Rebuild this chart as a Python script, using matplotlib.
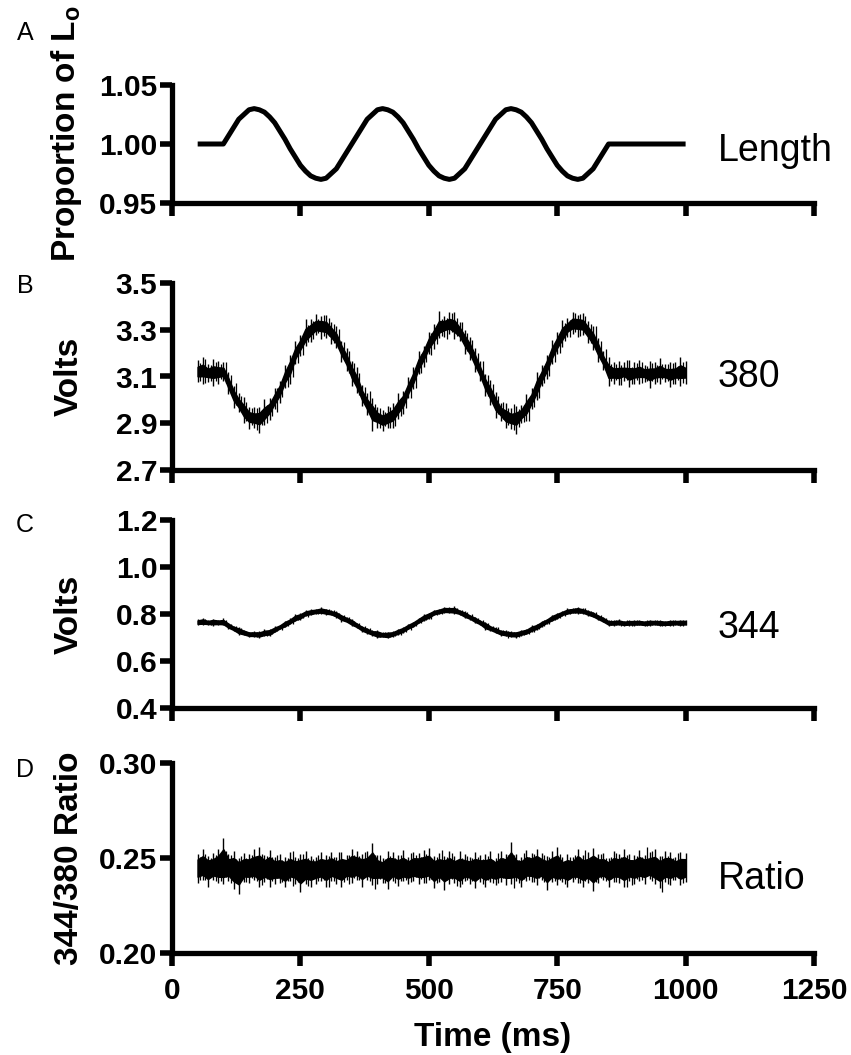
import numpy as np
import matplotlib
matplotlib.use("Agg")
import matplotlib.pyplot as plt

plt.rcParams['font.family'] = ['Liberation Sans', 'DejaVu Sans']
plt.rcParams['mathtext.fontset'] = 'custom'
plt.rcParams['mathtext.rm'] = 'Liberation Sans'
plt.rcParams['mathtext.bf'] = 'Liberation Sans:bold'

# ---------------- data ----------------
x_ticks = [0, 250, 500, 750, 1000, 1250]
x_ticklabels = ['0', '250', '500', '750', '1000', '1250']

# Panel A: muscle length (proportion of Lo)
length_t = [50] + list(range(100, 851, 10)) + [1000]
length_v = [1.000,
            1.000, 1.007, 1.014, 1.021, 1.025, 1.029, 1.030, 1.029, 1.027, 1.023, 1.018, 1.011, 1.004,
            0.996, 0.989, 0.982, 0.977, 0.973, 0.971, 0.970, 0.971, 0.975, 0.979, 0.986, 0.993,
            1.000, 1.007, 1.014, 1.021, 1.025, 1.029, 1.030, 1.029, 1.027, 1.023, 1.018, 1.011, 1.004,
            0.996, 0.989, 0.982, 0.977, 0.973, 0.971, 0.970, 0.971, 0.975, 0.979, 0.986, 0.993,
            1.000, 1.007, 1.014, 1.021, 1.025, 1.029, 1.030, 1.029, 1.027, 1.023, 1.018, 1.011, 1.004,
            0.996, 0.989, 0.982, 0.977, 0.973, 0.971, 0.970, 0.971, 0.975, 0.979, 0.986, 0.993,
            1.000,
            1.000]

# common sampling times for the noisy traces (ms)
trace_t = list(range(50, 1001, 10))

# Panel B: 380 nm signal (V) - centre and noise excursions
v380_mid = [3.120, 3.125, 3.115, 3.120, 3.120,
            3.120, 3.070, 3.024, 2.983, 2.951, 2.930, 2.920, 2.924, 2.939, 2.966, 3.002, 3.046, 3.095,
            3.145, 3.194, 3.238, 3.274, 3.301, 3.316, 3.320, 3.310, 3.289, 3.257, 3.216, 3.170,
            3.120, 3.070, 3.022, 2.980, 2.948, 2.925, 2.915, 2.920, 2.936, 2.964, 3.000, 3.046, 3.095,
            3.147, 3.196, 3.240, 3.278, 3.305, 3.320, 3.325, 3.314, 3.290, 3.257, 3.216, 3.170,
            3.120, 3.070, 3.024, 2.983, 2.951, 2.930, 2.920, 2.924, 2.939, 2.966, 3.004, 3.050, 3.100,
            3.150, 3.200, 3.245, 3.282, 3.310, 3.326, 3.330, 3.318, 3.292, 3.258, 3.215, 3.168,
            3.120, 3.115, 3.115, 3.120, 3.110, 3.115, 3.120, 3.115, 3.110, 3.115, 3.120, 3.115,
            3.110, 3.115, 3.120, 3.115]
v380_up = [0.050, 0.060, 0.040, 0.055, 0.045, 0.040, 0.050, 0.035, 0.045, 0.060,
           0.040, 0.050, 0.045, 0.065, 0.040, 0.050, 0.035, 0.055, 0.045, 0.060,
           0.040, 0.070, 0.045, 0.050, 0.040, 0.055, 0.045, 0.060, 0.035, 0.050,
           0.045, 0.070, 0.040, 0.050, 0.060, 0.045, 0.040, 0.055, 0.050, 0.065,
           0.040, 0.050, 0.045, 0.060, 0.035, 0.050, 0.045, 0.075, 0.040, 0.050,
           0.060, 0.045, 0.040, 0.055, 0.050, 0.045, 0.040, 0.060, 0.050, 0.035,
           0.055, 0.045, 0.050, 0.040, 0.060, 0.045, 0.070, 0.050, 0.040, 0.055,
           0.045, 0.060, 0.040, 0.050, 0.035, 0.055, 0.045, 0.060, 0.050, 0.040,
           0.065, 0.045, 0.050, 0.040, 0.060, 0.045, 0.050, 0.035, 0.055, 0.045,
           0.060, 0.040, 0.050, 0.045, 0.065, 0.050]
v380_dn = [0.045, 0.055, 0.040, 0.060, 0.050, 0.040, 0.045, 0.060, 0.035, 0.050,
           0.055, 0.040, 0.065, 0.045, 0.050, 0.040, 0.060, 0.045, 0.075, 0.040,
           0.050, 0.045, 0.055, 0.040, 0.060, 0.045, 0.050, 0.035, 0.055, 0.045,
           0.060, 0.040, 0.050, 0.045, 0.080, 0.045, 0.050, 0.040, 0.055, 0.045,
           0.060, 0.040, 0.050, 0.035, 0.055, 0.045, 0.060, 0.040, 0.050, 0.045,
           0.055, 0.040, 0.060, 0.045, 0.050, 0.040, 0.055, 0.045, 0.060, 0.040,
           0.050, 0.045, 0.070, 0.040, 0.055, 0.045, 0.050, 0.040, 0.060, 0.045,
           0.050, 0.055, 0.040, 0.045, 0.060, 0.040, 0.050, 0.045, 0.055, 0.040,
           0.060, 0.045, 0.050, 0.040, 0.055, 0.045, 0.050, 0.040, 0.060, 0.045,
           0.050, 0.040, 0.055, 0.045, 0.060, 0.045]

# Panel C: 344 nm signal (V)
v344_mid = [0.765, 0.767, 0.764, 0.766, 0.765,
            0.763, 0.751, 0.739, 0.729, 0.721, 0.715, 0.713, 0.714, 0.718, 0.724, 0.734, 0.745, 0.757,
            0.769, 0.781, 0.792, 0.802, 0.808, 0.812, 0.813, 0.811, 0.805, 0.797, 0.787, 0.775,
            0.763, 0.751, 0.739, 0.728, 0.719, 0.713, 0.711, 0.712, 0.716, 0.723, 0.733, 0.745, 0.758,
            0.771, 0.783, 0.795, 0.805, 0.812, 0.816, 0.817, 0.814, 0.807, 0.798, 0.787, 0.775,
            0.763, 0.751, 0.740, 0.730, 0.722, 0.716, 0.714, 0.715, 0.719, 0.725, 0.735, 0.746, 0.758,
            0.770, 0.782, 0.793, 0.803, 0.810, 0.814, 0.815, 0.812, 0.806, 0.797, 0.786, 0.774,
            0.763, 0.762, 0.763, 0.761, 0.762, 0.763, 0.762, 0.761, 0.762, 0.763, 0.762, 0.761,
            0.762, 0.763, 0.762, 0.763]
v344_up = [0.012, 0.016, 0.010, 0.014, 0.011, 0.018, 0.012, 0.010, 0.015, 0.012,
           0.010, 0.014, 0.012, 0.017, 0.011, 0.013, 0.010, 0.015, 0.012, 0.019,
           0.011, 0.014, 0.012, 0.010, 0.016, 0.012, 0.011, 0.015, 0.010, 0.013,
           0.017, 0.012, 0.010, 0.014, 0.012, 0.020, 0.011, 0.013, 0.010, 0.015,
           0.012, 0.014, 0.010, 0.012, 0.016, 0.011, 0.013, 0.010, 0.015, 0.012,
           0.018, 0.011, 0.013, 0.010, 0.014, 0.012, 0.016, 0.011, 0.013, 0.010,
           0.015, 0.012, 0.010, 0.014, 0.012, 0.017, 0.011, 0.013, 0.010, 0.015,
           0.012, 0.010, 0.014, 0.011, 0.016, 0.012, 0.010, 0.013, 0.011, 0.014,
           0.010, 0.012, 0.015, 0.010, 0.012, 0.011, 0.013, 0.010, 0.014, 0.011,
           0.012, 0.010, 0.013, 0.011, 0.014, 0.012]
v344_dn = [0.011, 0.013, 0.010, 0.015, 0.012, 0.010, 0.014, 0.011, 0.017, 0.012,
           0.013, 0.010, 0.015, 0.011, 0.018, 0.012, 0.010, 0.014, 0.012, 0.011,
           0.016, 0.010, 0.013, 0.012, 0.011, 0.015, 0.010, 0.012, 0.019, 0.011,
           0.013, 0.010, 0.015, 0.012, 0.011, 0.014, 0.010, 0.016, 0.012, 0.011,
           0.013, 0.010, 0.015, 0.011, 0.012, 0.017, 0.010, 0.013, 0.011, 0.014,
           0.012, 0.010, 0.015, 0.011, 0.013, 0.010, 0.018, 0.012, 0.011, 0.014,
           0.010, 0.013, 0.016, 0.011, 0.012, 0.010, 0.014, 0.012, 0.011, 0.013,
           0.015, 0.010, 0.012, 0.011, 0.013, 0.010, 0.014, 0.011, 0.012, 0.010,
           0.013, 0.011, 0.010, 0.012, 0.011, 0.013, 0.010, 0.012, 0.011, 0.010,
           0.013, 0.011, 0.012, 0.010, 0.012, 0.011]

# Panel D: 344/380 ratio
ratio_mid = [0.2450, 0.2455, 0.2450, 0.2445, 0.2450, 0.2455, 0.2450, 0.2445, 0.2440, 0.2445,
             0.2450, 0.2445, 0.2440, 0.2445, 0.2450, 0.2445, 0.2440, 0.2435, 0.2440, 0.2445,
             0.2440, 0.2435, 0.2440, 0.2445, 0.2440, 0.2445, 0.2450, 0.2445, 0.2440, 0.2445,
             0.2450, 0.2455, 0.2450, 0.2445, 0.2450, 0.2445, 0.2440, 0.2445, 0.2450, 0.2445,
             0.2440, 0.2445, 0.2450, 0.2455, 0.2450, 0.2445, 0.2440, 0.2445, 0.2450, 0.2445,
             0.2440, 0.2435, 0.2440, 0.2445, 0.2440, 0.2445, 0.2440, 0.2435, 0.2440, 0.2445,
             0.2450, 0.2445, 0.2440, 0.2445, 0.2450, 0.2455, 0.2450, 0.2445, 0.2440, 0.2445,
             0.2440, 0.2435, 0.2440, 0.2445, 0.2450, 0.2445, 0.2440, 0.2445, 0.2450, 0.2445,
             0.2440, 0.2445, 0.2450, 0.2445, 0.2440, 0.2445, 0.2450, 0.2455, 0.2450, 0.2445,
             0.2440, 0.2445, 0.2450, 0.2445, 0.2440, 0.2445]
ratio_up = [0.007, 0.009, 0.006, 0.008, 0.010, 0.015, 0.007, 0.009, 0.006, 0.008,
            0.007, 0.010, 0.012, 0.007, 0.009, 0.006, 0.008, 0.007, 0.009, 0.006,
            0.008, 0.010, 0.007, 0.006, 0.009, 0.007, 0.008, 0.006, 0.009, 0.007,
            0.010, 0.008, 0.007, 0.009, 0.013, 0.007, 0.006, 0.009, 0.008, 0.007,
            0.010, 0.006, 0.008, 0.007, 0.009, 0.011, 0.007, 0.008, 0.006, 0.009,
            0.007, 0.010, 0.008, 0.006, 0.009, 0.007, 0.008, 0.010, 0.006, 0.009,
            0.007, 0.014, 0.008, 0.006, 0.009, 0.007, 0.010, 0.008, 0.007, 0.009,
            0.012, 0.007, 0.008, 0.006, 0.010, 0.007, 0.009, 0.011, 0.007, 0.008,
            0.006, 0.009, 0.007, 0.010, 0.008, 0.007, 0.009, 0.006, 0.008, 0.010,
            0.007, 0.009, 0.008, 0.006, 0.009, 0.008]
ratio_dn = [0.008, 0.007, 0.010, 0.006, 0.008, 0.009, 0.007, 0.011, 0.013, 0.007,
            0.008, 0.006, 0.009, 0.007, 0.010, 0.008, 0.007, 0.009, 0.006, 0.008,
            0.012, 0.007, 0.009, 0.008, 0.006, 0.010, 0.007, 0.008, 0.009, 0.006,
            0.008, 0.007, 0.010, 0.006, 0.009, 0.008, 0.007, 0.011, 0.007, 0.009,
            0.006, 0.008, 0.007, 0.009, 0.008, 0.006, 0.010, 0.007, 0.012, 0.008,
            0.007, 0.009, 0.006, 0.008, 0.010, 0.007, 0.009, 0.006, 0.008, 0.007,
            0.009, 0.008, 0.006, 0.010, 0.007, 0.008, 0.009, 0.006, 0.011, 0.007,
            0.008, 0.006, 0.009, 0.007, 0.008, 0.010, 0.007, 0.012, 0.008, 0.006,
            0.009, 0.007, 0.008, 0.010, 0.006, 0.008, 0.007, 0.009, 0.006, 0.008,
            0.010, 0.007, 0.009, 0.006, 0.008, 0.007]

panels = [
    dict(letter='A', ylabel=r'Proportion of L$_{\mathbf{o}}$', ylim=(0.95, 1.05),
         yticks=[0.95, 1.00, 1.05], yticklabels=['0.95', '1.00', '1.05'],
         tag='Length', tag_y=0.9857),
    dict(letter='B', ylabel='Volts', ylim=(2.7, 3.5),
         yticks=[2.7, 2.9, 3.1, 3.3, 3.5], yticklabels=['2.7', '2.9', '3.1', '3.3', '3.5'],
         tag='380', tag_y=3.057),
    dict(letter='C', ylabel='Volts', ylim=(0.4, 1.2),
         yticks=[0.4, 0.6, 0.8, 1.0, 1.2], yticklabels=['0.4', '0.6', '0.8', '1.0', '1.2'],
         tag='344', tag_y=0.700),
    dict(letter='D', ylabel='344/380 Ratio', ylim=(0.20, 0.30),
         yticks=[0.20, 0.25, 0.30], yticklabels=['0.20', '0.25', '0.30'],
         tag='Ratio', tag_y=0.2335),
]

# ---------------- layout ----------------
W, H = 851, 1055
fig = plt.figure(figsize=(W / 100, H / 100), dpi=100)
frames = [(85, 203), (283, 470), (520, 708), (763, 953)]   # (top, bottom) in px
left_px, right_px = 172, 814
ylabel_x = [-0.137, -0.136, -0.136, -0.136]
ylabel_y = [0.59, 0.5, 0.5, 0.5]
letter_y = [33, 286, 525, 770]
core_frac = [None, 0.42, 0.6, 0.6]

axes = []
for i, (p, (top, bot)) in enumerate(zip(panels, frames)):
    ax = fig.add_axes([left_px / W, 1 - bot / H, (right_px - left_px) / W, (bot - top) / H])
    axes.append(ax)
    ax.set_xlim(0, 1250)
    ax.set_ylim(*p['ylim'])
    for s in ['top', 'right']:
        ax.spines[s].set_visible(False)
    for s in ['left', 'bottom']:
        ax.spines[s].set_linewidth(3.8)
        ax.spines[s].set_capstyle('projecting')
    ax.set_xticks(x_ticks)
    ax.set_yticks(p['yticks'])
    ax.set_yticklabels(p['yticklabels'], fontsize=21.5, fontweight='bold')
    if i == 3:
        ax.set_xticklabels(x_ticklabels, fontsize=21.5, fontweight='bold')
        ax.set_xlabel('Time (ms)', fontsize=24, fontweight='bold', labelpad=12)
    else:
        ax.set_xticklabels([])
    ax.tick_params(axis='both', direction='out', length=9, width=4.0, pad=1.5)
    ax.tick_params(axis='x', pad=8.5)
    ax.set_ylabel(p['ylabel'], fontsize=24, fontweight='bold')
    ax.yaxis.set_label_coords(ylabel_x[i], ylabel_y[i])
    fig.text(25 / W, 1 - letter_y[i] / H, p['letter'], fontsize=18, ha='center', va='center')
    ax.text(1062, p['tag_y'], p['tag'], fontsize=27, ha='left', va='baseline')


def noisy(ax, t, mid, up, dn, core):
    t = np.asarray(t, float)
    mid = np.asarray(mid, float)
    up = np.asarray(up, float)
    dn = np.asarray(dn, float)
    # solid core of the trace
    ax.fill_between(t, mid - core * dn, mid + core * up, color='black', lw=1.2)
    # individual noise excursions
    ax.vlines(t, mid - dn, mid + up, color='black', lw=1.0)
    ax.vlines(t[:-1] + 5, mid[:-1] - 0.8 * up[::-1][:-1], mid[:-1] + 0.8 * dn[::-1][:-1],
              color='black', lw=0.9)


# Panel A
axes[0].plot(length_t, length_v, color='black', lw=3.6, solid_capstyle='butt',
             solid_joinstyle='round')
# Panels B-D
noisy(axes[1], trace_t, v380_mid, v380_up, v380_dn, core_frac[1])
noisy(axes[2], trace_t, v344_mid, v344_up, v344_dn, core_frac[2])
noisy(axes[3], trace_t, ratio_mid, ratio_up, ratio_dn, core_frac[3])

fig.savefig('out.png', dpi=100)
